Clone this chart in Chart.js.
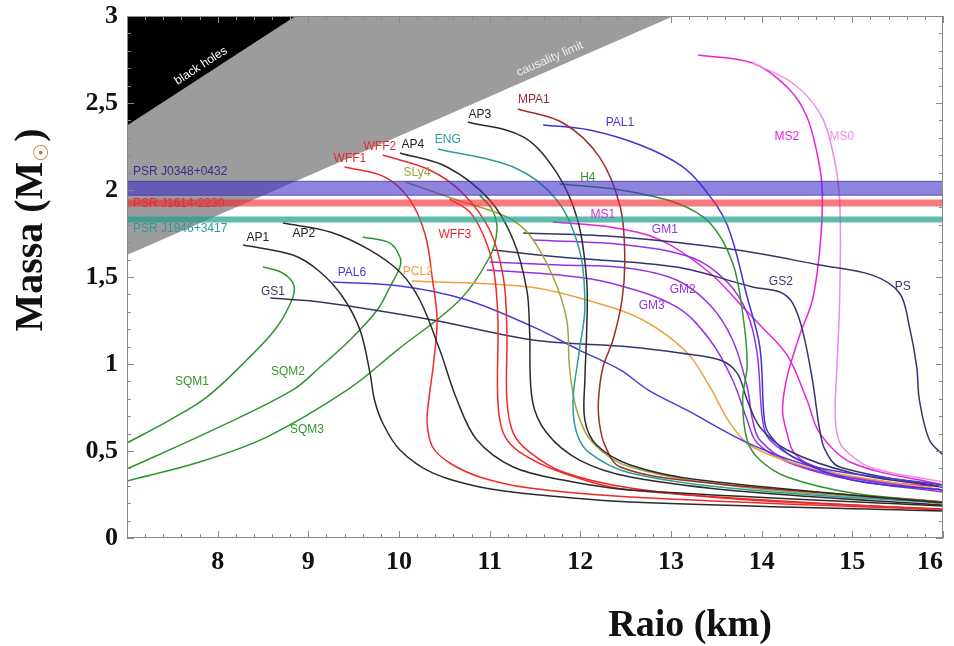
<!DOCTYPE html>
<html><head><meta charset="utf-8">
<script src="https://cdn.jsdelivr.net/npm/chart.js@4.4.1/dist/chart.umd.min.js"></script>
<style>html,body{margin:0;padding:0;background:#fff;}canvas{display:block;}</style>
</head><body>
<canvas id="c" width="954" height="646"></canvas>
<script>
// ---- axis ticks ----
const X_TICKS = [7, 8, 9, 10, 11, 12, 13, 14, 15, 16];
const Y_TICKS = [0, 0.5, 1, 1.5, 2, 2.5, 3];

// ---- excluded regions (radius km, mass Msun) ----
const BH_R = [7, 8.86];       const BH_M = [2.37, 3.0];
const CAUS_R = [7, 13.03];    const CAUS_M = [1.626, 3.0];

// ---- pulsar mass bands [upper, lower] ----
const PSR_J0348 = [2.05, 1.97];
const PSR_J1614 = [1.946, 1.905];
const PSR_J1946 = [1.848, 1.813];

// ---- mass-radius curves [R (km), M (Msun)] ----
const AP1 = [[8.28,1.684],[8.83,1.626],[9.13,1.529],[9.38,1.385],[9.57,1.195],[9.68,0.948],[9.73,0.793],[9.82,0.661],[10.01,0.506],[10.37,0.374],[10.89,0.293],[11.44,0.253],[12.55,0.207],[16.0,0.155]];
const AP2 = [[8.72,1.81],[9.24,1.759],[9.68,1.655],[10.01,1.529],[10.23,1.368],[10.45,1.08],[10.64,0.793],[10.86,0.563],[11.26,0.408],[11.81,0.333],[12.55,0.276],[16.0,0.184]];
const AP3 = [[10.76,2.391],[11.37,2.305],[11.74,2.098],[11.97,1.828],[12.07,1.483],[12.07,1.195],[12.05,0.908],[12.05,0.678],[12.18,0.534],[12.55,0.42],[13.32,0.333],[16.0,0.201]];
const AP4 = [[10.01,2.213],[10.53,2.132],[11.0,1.943],[11.26,1.713],[11.41,1.425],[11.44,1.195],[11.47,0.793],[11.63,0.603],[11.99,0.448],[12.55,0.351],[13.87,0.264],[16.0,0.19]];
const WFF1 = [[9.40,2.132],[9.84,2.075],[10.12,1.943],[10.29,1.741],[10.37,1.483],[10.42,1.253],[10.38,1.0],[10.33,0.8],[10.31,0.661],[10.37,0.523],[10.56,0.431],[10.89,0.351],[11.44,0.287],[12.55,0.236],[16.0,0.161]];
const WFF2 = [[9.82,2.201],[10.34,2.115],[10.70,1.983],[11.0,1.77],[11.15,1.50],[11.19,1.195],[11.19,0.793],[11.26,0.603],[11.44,0.494],[11.81,0.379],[12.55,0.287],[13.87,0.218],[16.0,0.167]];
const WFF3 = [[10.56,1.948],[10.78,1.874],[10.93,1.741],[11.04,1.557],[11.09,1.27],[11.09,0.793],[11.15,0.603],[11.33,0.494],[11.81,0.374],[12.55,0.276],[16.0,0.161]];
const MPA1 = [[11.31,2.466],[11.81,2.385],[12.21,2.19],[12.44,1.902],[12.49,1.615],[12.46,1.368],[12.36,1.138],[12.25,0.983],[12.20,0.793],[12.21,0.661],[12.27,0.534],[12.44,0.408],[13.32,0.322],[16.0,0.207]];
const ENG = [[10.43,2.236],[11.26,2.132],[11.74,1.943],[11.99,1.655],[12.05,1.328],[11.99,1.08],[11.92,0.793],[11.96,0.603],[12.10,0.489],[12.55,0.374],[13.87,0.276],[16.0,0.201]];
const SLY4 = [[10.07,2.046],[10.64,1.943],[11.19,1.845],[11.44,1.741],[11.70,1.50],[11.85,1.253],[11.88,0.983],[11.96,0.736],[12.14,0.546],[12.55,0.408],[13.87,0.287],[16.0,0.207]];
const H4 = [[11.77,2.034],[12.44,2.0],[13.06,1.925],[13.43,1.81],[13.68,1.58],[13.79,1.293],[13.84,1.0],[13.79,0.793],[13.84,0.563],[13.98,0.448],[14.28,0.351],[15.0,0.259],[16.0,0.207]];
const PAL1 = [[11.59,2.374],[12.10,2.345],[12.66,2.259],[13.10,2.144],[13.35,2.017],[13.62,1.799],[13.84,1.385],[13.98,1.098],[14.03,0.678],[14.09,0.592],[14.34,0.466],[15.0,0.333],[16.0,0.276]];
const PAL6 = [[9.27,1.471],[10.01,1.448],[10.75,1.368],[11.48,1.213],[11.99,1.08],[12.44,0.966],[12.75,0.85],[13.17,0.736],[13.90,0.534],[14.64,0.402],[16.0,0.305]];
const GS1 = [[8.58,1.379],[9.13,1.356],[10.37,1.253],[11.48,1.138],[12.55,1.098],[13.10,1.063],[13.54,1.023],[13.73,0.948],[13.84,0.793],[13.98,0.638],[14.28,0.506],[15.0,0.374],[16.0,0.293]];
const GS2 = [[11.04,1.655],[11.77,1.615],[13.06,1.557],[13.90,1.443],[14.20,1.414],[14.34,1.351],[14.45,1.195],[14.56,0.908],[14.64,0.621],[14.70,0.506],[14.86,0.408],[16.0,0.293]];
const PS = [[11.37,1.753],[12.44,1.73],[13.73,1.655],[14.64,1.569],[15.22,1.511],[15.52,1.408],[15.63,1.213],[15.71,0.983],[15.74,0.793],[15.85,0.563],[16.0,0.477]];
const PCL2 = [[10.14,1.477],[11.44,1.443],[12.18,1.351],[12.69,1.253],[13.17,1.069],[13.43,0.868],[13.65,0.661],[13.90,0.523],[14.64,0.391],[16.0,0.276]];
const GM1 = [[11.48,1.713],[12.51,1.684],[13.24,1.609],[13.62,1.471],[13.84,1.293],[13.95,1.063],[14.01,0.678],[14.09,0.563],[14.42,0.448],[15.0,0.345],[16.0,0.276]];
const GM2 = [[11.0,1.586],[11.77,1.569],[12.51,1.552],[13.06,1.483],[13.43,1.339],[13.68,1.138],[13.84,0.868],[13.90,0.678],[13.98,0.563],[14.31,0.437],[15.0,0.345],[16.0,0.276]];
const GM3 = [[10.97,1.54],[11.77,1.511],[12.33,1.466],[13.06,1.328],[13.43,1.138],[13.68,0.908],[13.84,0.678],[13.95,0.546],[14.31,0.431],[15.0,0.333],[16.0,0.264]];
const MS1 = [[11.70,1.816],[12.33,1.787],[12.88,1.713],[13.43,1.523],[13.79,1.328],[13.98,1.224],[14.28,1.052],[14.50,0.793],[14.64,0.603],[15.0,0.431],[16.0,0.305]];
const MS2 = [[13.30,2.776],[13.90,2.73],[14.28,2.592],[14.50,2.42],[14.64,2.132],[14.67,1.943],[14.64,1.655],[14.56,1.368],[14.42,1.167],[14.28,0.925],[14.23,0.736],[14.28,0.603],[14.36,0.489],[14.64,0.391],[15.38,0.322],[16.0,0.293]];
const MS0 = [[13.90,2.73],[14.34,2.615],[14.64,2.443],[14.78,2.23],[14.86,1.943],[14.86,1.368],[14.83,0.983],[14.81,0.736],[14.83,0.603],[14.89,0.523],[15.19,0.408],[16.0,0.322]];
const SQM1 = [[7.0,0.546],[7.47,0.678],[7.88,0.81],[8.32,1.023],[8.65,1.21],[8.83,1.385],[8.83,1.466],[8.69,1.53],[8.50,1.557]];
const SQM2 = [[7.0,0.397],[7.95,0.621],[8.83,0.851],[9.13,0.983],[9.46,1.138],[9.76,1.31],[9.90,1.443],[10.01,1.557],[10.01,1.615],[9.90,1.695],[9.60,1.73]];
const SQM3 = [[7.0,0.328],[7.80,0.437],[8.54,0.580],[9.43,0.851],[9.98,1.08],[10.67,1.368],[11.0,1.615],[11.08,1.77],[11.03,1.885],[10.89,1.97]];

// ---- styling (kept separate from data) ----
const C = {black:'#2b2b2b', red:'#ee2a2a', brown:'#9b2d2d', teal:'#2c9c9c', olive:'#a3a33a', green:'#2f962f',
  blue:'#3c35d6', blue2:'#4a3bd9', navy:'#35356e', purple:'#9433e6', magenta:'#e424dc', pink:'#ec8ce8', orange:'#f0a03c'};

const curves = [
  [AP1,C.black],[AP2,C.black],[AP3,C.black],[AP4,C.black],
  [WFF1,C.red],[WFF2,C.red],[WFF3,C.red],[MPA1,C.brown],[ENG,C.teal],[SLY4,C.olive],[H4,C.green],
  [PAL1,C.blue],[PAL6,C.blue2],[GS1,C.navy],[GS2,C.navy],[PS,C.navy],[PCL2,C.orange],
  [GM1,C.purple],[GM2,C.purple],[GM3,C.purple],[MS1,C.magenta],[MS0,C.pink],[MS2,C.magenta],
  [SQM1,C.green],[SQM2,C.green],[SQM3,C.green]
];

const curveLabels = [
  ['AP1',8.444,1.724,'#222'],['AP2',8.951,1.747,'#222'],['AP3',10.892,2.431,'#222'],['AP4',10.153,2.259,'#222'],
  ['WFF1',9.459,2.178,'#e8282e'],['WFF2',9.789,2.247,'#e8282e'],['WFF3',10.616,1.741,'#e8282e'],
  ['ENG',10.539,2.287,'#2c9c9c'],['SLy4',10.197,2.098,'#a3a33a'],['MPA1',11.487,2.517,'#9b2d2d'],
  ['H4',12.083,2.069,'#2f962f'],['PAL1',12.436,2.385,'#4a3bd0'],['MS2',14.277,2.305,'#e024d8'],
  ['MS0',14.883,2.305,'#ec8ce8'],['MS1',12.248,1.856,'#d02ee0'],['GM1',12.932,1.770,'#9433e6'],
  ['GM2',13.130,1.425,'#9433e6'],['GM3',12.788,1.333,'#9433e6'],['GS2',14.211,1.471,'#3a3a6e'],
  ['PS',15.556,1.443,'#3a3a6e'],['PAL6',9.481,1.523,'#4a3bd0'],['PCL2',10.208,1.529,'#f0a03c'],
  ['GS1',8.610,1.414,'#3a3a6e'],['SQM1',7.717,0.897,'#2f962f'],['SQM2',8.775,0.954,'#2f962f'],['SQM3',8.985,0.621,'#2f962f']
];
const psrLabels = [
  ['PSR J0348+0432',7.066,2.103,'#3b2d8f'],
  ['PSR J1614-2230',7.066,1.919,'#e0303a'],
  ['PSR J1946+3417',7.066,1.776,'#2a9a9a']
];

const toXY = (R, M) => R.map((r, i) => ({x: r, y: M[i]}));
const pairs = a => a.map(p => ({x: p[0], y: p[1]}));

const datasets = [];
function band(vals, fillCol, edgeCol) {
  datasets.push({data: toXY([7,16],[vals[0],vals[0]]), showLine:true, pointRadius:0, borderWidth: edgeCol?1:0, borderColor: edgeCol||'transparent', backgroundColor: fillCol, fill:'+1', order:0});
  datasets.push({data: toXY([7,16],[vals[1],vals[1]]), showLine:true, pointRadius:0, borderWidth: edgeCol?1:0, borderColor: edgeCol||'transparent', fill:false, order:0});
}
band(PSR_J0348, 'rgba(66,49,200,0.6)', 'rgba(55,40,150,0.7)');
band(PSR_J1614, 'rgba(240,40,50,0.62)', null);
band(PSR_J1946, 'rgba(30,160,140,0.7)', null);
curves.forEach(([pts, col]) => datasets.push({data: pairs(pts), showLine:true, pointRadius:0, borderColor: col, borderWidth:1.5, tension:0.35, fill:false, order:1}));
datasets.push({data: toXY(BH_R, BH_M), showLine:true, pointRadius:0, borderWidth:0, backgroundColor:'#000', fill:'end', order:2});
datasets.push({data: toXY(CAUS_R, CAUS_M), showLine:true, pointRadius:0, borderWidth:0, backgroundColor:'#9c9c9c', fill:'end', order:3});

const serifBold = (s) => ({family:'"Liberation Serif", "Times New Roman", serif', size:s, weight:'bold'});
const zeroPad = s => { s.paddingLeft = 0; s.paddingRight = 0; s.paddingTop = 0; s.paddingBottom = 0; };

const decor = {
  id: 'decor',
  afterDatasetsDraw(chart) {
    const {ctx, chartArea:a, scales:{x, y}} = chart;
    ctx.save();
    ctx.strokeStyle = '#8a8a8a'; ctx.lineWidth = 1;
    ctx.strokeRect(a.left + 0.5, a.top + 0.5, a.right - a.left - 1, a.bottom - a.top - 1);
    ctx.beginPath();
    for (let i = 0; i <= 45; i++) {
      const px = Math.round(x.getPixelForValue(7 + i * 0.2)) + 0.5, L = (i % 5 === 0) ? 7 : 4;
      ctx.moveTo(px, a.bottom); ctx.lineTo(px, a.bottom - L);
      ctx.moveTo(px, a.top); ctx.lineTo(px, a.top + L);
    }
    for (let j = 0; j <= 30; j++) {
      const py = Math.round(y.getPixelForValue(j * 0.1)) + 0.5, L = (j % 5 === 0) ? 7 : 4;
      ctx.moveTo(a.left, py); ctx.lineTo(a.left + L, py);
      ctx.moveTo(a.right, py); ctx.lineTo(a.right - L, py);
    }
    ctx.stroke();

    const rot = (R, M, txt, col, r0, m0, r1, m1) => {
      const ang = Math.atan2(y.getPixelForValue(m1) - y.getPixelForValue(m0), x.getPixelForValue(r1) - x.getPixelForValue(r0));
      ctx.save();
      ctx.translate(x.getPixelForValue(R), y.getPixelForValue(M));
      ctx.rotate(ang);
      ctx.font = '12px "Liberation Sans", Arial, sans-serif';
      ctx.fillStyle = col; ctx.textAlign = 'center'; ctx.textBaseline = 'middle';
      ctx.fillText(txt, 0, 0);
      ctx.restore();
    };
    rot(7.816, 2.713, 'black holes', '#ffffff', BH_R[0], BH_M[0], BH_R[1], BH_M[1]);
    rot(11.664, 2.753, 'causality limit', '#ececec', CAUS_R[0], CAUS_M[0], CAUS_R[1], CAUS_M[1]);

    ctx.font = '12px "Liberation Sans", Arial, sans-serif';
    ctx.textBaseline = 'middle';
    ctx.textAlign = 'center';
    curveLabels.forEach(([t, r, m, c]) => { ctx.fillStyle = c; ctx.fillText(t, x.getPixelForValue(r), y.getPixelForValue(m)); });
    ctx.textAlign = 'left';
    psrLabels.forEach(([t, r, m, c]) => { ctx.fillStyle = c; ctx.fillText(t, x.getPixelForValue(r), y.getPixelForValue(m)); });

    ctx.fillStyle = '#111';
    ctx.font = 'bold 38px "Liberation Serif", "Times New Roman", serif';
    ctx.textAlign = 'center'; ctx.textBaseline = 'middle';
    ctx.fillText('Raio (km)', 690, 626);

    ctx.save();
    ctx.translate(42, 230);
    ctx.rotate(-Math.PI / 2);
    ctx.textBaseline = 'alphabetic'; ctx.textAlign = 'left';
    const mainF = 'bold 40px "Liberation Serif", "Times New Roman", serif';
    const subF = '20px "DejaVu Sans", sans-serif';
    ctx.font = mainF; const w1 = ctx.measureText('Massa (M').width; const w3 = ctx.measureText(')').width;
    ctx.font = subF; const w2 = ctx.measureText('\u2609').width;
    let u = -(w1 + w2 + 2 + w3) / 2;
    ctx.font = mainF; ctx.fillStyle = '#111'; ctx.fillText('Massa (M', u, 0); u += w1;
    ctx.font = subF; ctx.fillStyle = '#b8722c'; ctx.fillText('\u2609', u, 6); u += w2 + 2;
    ctx.font = mainF; ctx.fillStyle = '#111'; ctx.fillText(')', u, 0);
    ctx.restore();
    ctx.restore();
  }
};

new Chart(document.getElementById('c'), {
  type: 'scatter',
  data: {datasets},
  options: {
    responsive: false, animation: false, devicePixelRatio: 1, events: [],
    layout: {padding: {top: 16, right: 11, left: 0, bottom: 0}},
    plugins: {legend: {display: false}, tooltip: {enabled: false}},
    scales: {
      x: {type: 'linear', min: 7, max: 16,
        border: {display: false}, grid: {display: false, drawTicks: false},
        afterFit: s => { s.height = 108; zeroPad(s); },
        afterBuildTicks: s => { s.ticks = X_TICKS.map(v => ({value: v})); },
        ticks: {padding: 9, color: '#111', font: serifBold(26), maxRotation: 0, autoSkip: false, align: 'inner',
          callback: v => (v === 7 ? '' : String(v))}},
      y: {type: 'linear', min: 0, max: 3,
        border: {display: false}, grid: {display: false, drawTicks: false},
        afterFit: s => { s.width = 127; zeroPad(s); },
        afterBuildTicks: s => { s.ticks = Y_TICKS.map(v => ({value: v})); },
        ticks: {padding: 9, color: '#111', font: serifBold(26), autoSkip: false,
          callback: v => String(v).replace('.', ',')}}
    }
  },
  plugins: [decor]
});
</script></body></html>
